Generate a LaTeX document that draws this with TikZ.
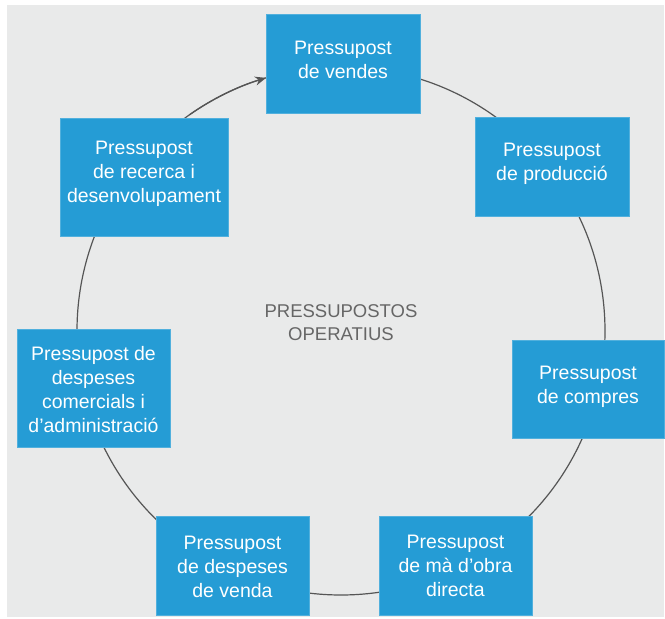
\documentclass[tikz,border=0pt]{standalone}
\usepackage{fontspec}
\setmainfont{Liberation Sans}
\usetikzlibrary{arrows.meta,calc}
\definecolor{panel}{HTML}{E9EAEA}
\definecolor{boxblue}{HTML}{259CD5}
\definecolor{ringgray}{HTML}{555555}
\definecolor{labelgray}{HTML}{666666}
\begin{document}
\begin{tikzpicture}[x=1pt,y=1pt,
  budget/.style={fill=boxblue, draw=boxblue!80!white, line width=0.6pt, inner sep=0pt},
  budgettext/.style={text=white, align=center, inner sep=0pt,
    font=\fontsize{19.5}{24}\selectfont},
  ring/.style={draw=ringgray, line width=1.2pt},
  flow/.style={ring, -{Stealth[length=11pt,width=9pt]}}]
  % page and panel
  \useasboundingbox (0,0) rectangle (665,619);
  \fill[white] (0,0) rectangle (665,619);
  \fill[panel] (7,2) rectangle (664,614);

  % the budgeting cycle
  \coordinate (C) at (341,288);
  \draw[ring] (C) circle[radius=264];
  \draw[flow] ($(C)+(125:264)$) arc[start angle=125, end angle=106.5, radius=264];

  \node[font=\fontsize{18.5}{23}\selectfont, text=labelgray, align=center]
    (title) at (341,296) {PRESSUPOSTOS\\OPERATIUS};

  % budget boxes
  \node[budget, minimum width=154, minimum height=99] (vendes) at (343,555.5) {};
  \node[budget, minimum width=154, minimum height=99] (produccio) at (552,452.5) {};
  \node[budget, minimum width=152, minimum height=98] (compres) at (588,230) {};
  \node[budget, minimum width=153, minimum height=99] (maobra) at (455.5,53.5) {};
  \node[budget, minimum width=153, minimum height=99] (venda) at (232.5,53.5) {};
  \node[budget, minimum width=153, minimum height=118] (comercials) at (93.5,231) {};
  \node[budget, minimum width=168, minimum height=118] (recerca) at (144,442) {};

  % their captions
  \node[budgettext] (vendes-t) at ([yshift=4]vendes.center)
    {Pressupost\\de vendes};
  \node[budgettext] (produccio-t) at ([yshift=2.5]produccio.center)
    {Pressupost\\de producció};
  \node[budgettext] (compres-t) at ([yshift=2]compres.center)
    {Pressupost\\de compres};
  \node[budgettext] (maobra-t) at (maobra.center)
    {Pressupost\\de mà d’obra\\directa};
  \node[budgettext] (venda-t) at ([yshift=-1.5]venda.center)
    {Pressupost\\de despeses\\de venda};
  \node[budgettext] (comercials-t) at ([yshift=-2]comercials.center)
    {Pressupost de\\despeses\\comercials i\\d’administració};
  \node[budgettext] (recerca-t) at ([yshift=3]recerca.center)
    {Pressupost\\de recerca i\\desenvolupament};
\end{tikzpicture}
\end{document}
